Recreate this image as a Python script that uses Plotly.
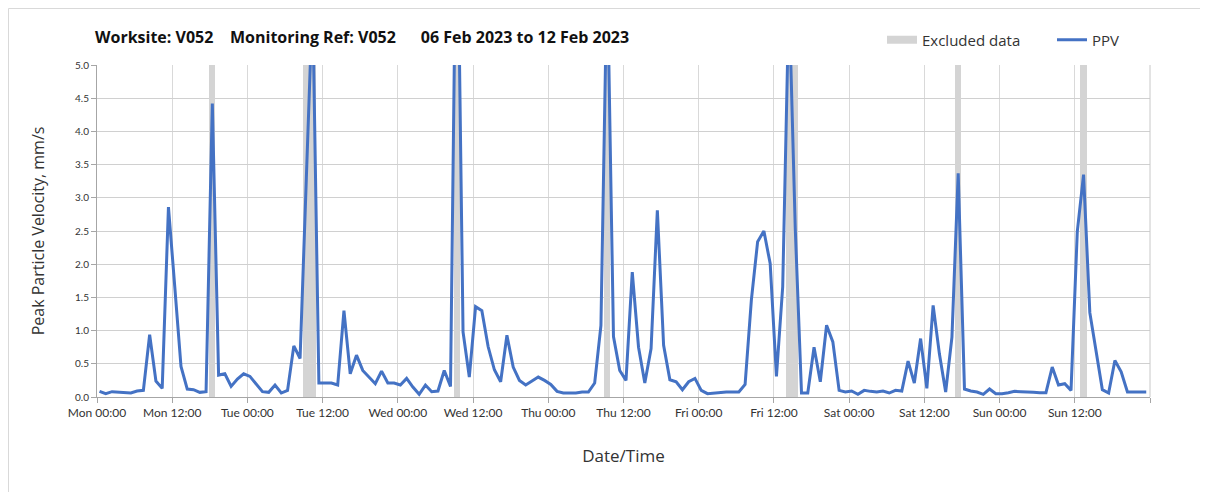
import pandas as pd
import plotly.graph_objects as go

# ---- data ----
start_time = "2023-02-06 00:24"
ppv = [
    0.085, 0.05, 0.08, 0.07, 0.07, 0.06, 0.09, 0.10, 0.94, 0.24, 0.13, 2.86,
    1.67, 0.46, 0.12, 0.11, 0.07, 0.08, 4.42, 0.33, 0.35, 0.16, 0.27, 0.35,
    0.31, 0.20, 0.08, 0.07, 0.18, 0.06, 0.10, 0.77, 0.58, 3.3, 6.0, 0.21,
    0.21, 0.21, 0.18, 1.30, 0.35, 0.63, 0.40, 0.30, 0.20, 0.39, 0.21, 0.21,
    0.18, 0.28, 0.15, 0.04, 0.18, 0.08, 0.09, 0.40, 0.16, 8.2, 0.98, 0.30,
    1.36, 1.30, 0.76, 0.41, 0.23, 0.93, 0.45, 0.25, 0.18, 0.24, 0.30, 0.25,
    0.19, 0.085, 0.06, 0.06, 0.06, 0.075, 0.075, 0.21, 1.08, 6.5, 0.91, 0.40,
    0.25, 1.88, 0.75, 0.21, 0.73, 2.81, 0.78, 0.26, 0.23, 0.11, 0.23, 0.28,
    0.10, 0.05, 0.06, 0.065, 0.075, 0.075, 0.075, 0.19, 1.46, 2.34, 2.50, 2.01,
    0.31, 1.66, 6.05, 2.55, 0.06, 0.06, 0.75, 0.23, 1.08, 0.83, 0.10, 0.075,
    0.09, 0.04, 0.10, 0.085, 0.075, 0.09, 0.06, 0.10, 0.09, 0.54, 0.21, 0.88,
    0.13, 1.38, 0.65, 0.075, 0.90, 3.37, 0.12, 0.09, 0.075, 0.04, 0.12, 0.05,
    0.05, 0.065, 0.085, 0.08, 0.07, 0.07, 0.065, 0.065, 0.45, 0.18, 0.20, 0.10,
    2.49, 3.35, 1.27, 0.70, 0.11, 0.06, 0.55, 0.38, 0.075, 0.075, 0.075, 0.075,
]
excluded_idx = [18, 33, 34, 57, 81, 110, 111, 137, 157]
y_max = 5.0
x_range = ["2023-02-06 00:00", "2023-02-13 00:00"]
tick_labels = ["Mon 00:00", "Mon 12:00", "Tue 00:00", "Tue 12:00", "Wed 00:00",
               "Wed 12:00", "Thu 00:00", "Thu 12:00", "Fri 00:00", "Fri 12:00",
               "Sat 00:00", "Sat 12:00", "Sun 00:00", "Sun 12:00", ""]

times = pd.date_range(start_time, periods=len(ppv), freq="h")
excl_times = [times[i] for i in excluded_idx]
tick_vals = pd.date_range(x_range[0], x_range[1], freq="12h")

FONT = "Lato, 'Open Sans', sans-serif"
FONT2 = "'Open Sans', sans-serif"
BLUE = "#4472C4"
GREY = "#d4d4d4"

W, H = 1208, 492
L, R, T, B = 89, 66, 57, 103
PW, PH = W - L - R, H - T - B

fig = go.Figure()
fig.add_trace(go.Bar(
    x=excl_times, y=[y_max] * len(excl_times), width=3600000,
    marker=dict(color=GREY, line=dict(width=0)),
    name="Excluded data", hoverinfo="skip", showlegend=False,
))
# legend-only entry giving the wide grey swatch
fig.add_trace(go.Scatter(
    x=[None], y=[None], mode="lines", name="Excluded data",
    line=dict(color=GREY, width=8),
))
fig.add_trace(go.Scatter(
    x=times, y=ppv, mode="lines", name="PPV",
    line=dict(color=BLUE, width=3),
))

fig.update_layout(
    width=W, height=H,
    margin=dict(l=L, r=R, t=T, b=B, autoexpand=False),
    paper_bgcolor="white", plot_bgcolor="white",
    font=dict(family=FONT, color="#333333"),
    bargap=0,
    title=dict(
        text="<b>Worksite: V052\u00a0\u00a0\u00a0\u00a0Monitoring Ref: V052\u00a0\u00a0\u00a0\u00a0\u00a0\u00a006 Feb 2023 to 12 Feb 2023</b>",
        x=87 / W, xanchor="left", xref="container",
        y=1 - 29 / H, yanchor="middle", yref="container",
        font=dict(size=16, color="#111111", family=FONT2),
    ),
    legend=dict(
        orientation="h", x=(874 - L) / PW, xanchor="left", y=(H - B - 32) / PH, yanchor="middle",
        font=dict(size=15, color="#333333", family=FONT2), bgcolor="rgba(0,0,0,0)",
        itemwidth=30, traceorder="normal", entrywidth=125, entrywidthmode="pixels",
    ),
    showlegend=True,
)

fig.update_xaxes(
    type="date", range=x_range,
    tickmode="array", tickvals=tick_vals, ticktext=tick_labels,
    showgrid=True, gridcolor="#d9d9d9", gridwidth=1,
    showline=True, linecolor="#a6a6a6", linewidth=1, mirror=False,
    ticks="outside", ticklen=5, tickcolor="#a6a6a6",
    tickfont=dict(size=12, color="#333333"),
    title=dict(text="Date/Time", font=dict(size=17, color="#333333", family=FONT2), standoff=30),
    zeroline=False,
)
fig.update_yaxes(
    range=[0, y_max], dtick=0.5, tickformat=".1f",
    showgrid=True, gridcolor="#d0d0d0", gridwidth=1,
    showline=True, linecolor="#a6a6a6", linewidth=1,
    ticks="outside", ticklen=5, tickcolor="#a6a6a6",
    tickfont=dict(size=10, color="#333333"),
    title=dict(text="Peak Particle Velocity, mm/s", font=dict(size=16, color="#333333", family=FONT2), standoff=26),
    zeroline=False,
)

# right border of plot area
fig.add_shape(type="line", xref="paper", yref="paper", x0=1, x1=1, y0=0, y1=1,
              line=dict(color="#c8c8c8", width=1))
# outer chart frame (top and left edges visible)
fig.add_shape(type="rect", xref="paper", yref="paper",
              x0=(0.5 - L) / PW, x1=(1260 - L) / PW,
              y0=(H - B - 540) / PH, y1=(H - B - 0.5) / PH,
              line=dict(color="#d9d9d9", width=1), layer="below")

fig.write_html("out.html")
